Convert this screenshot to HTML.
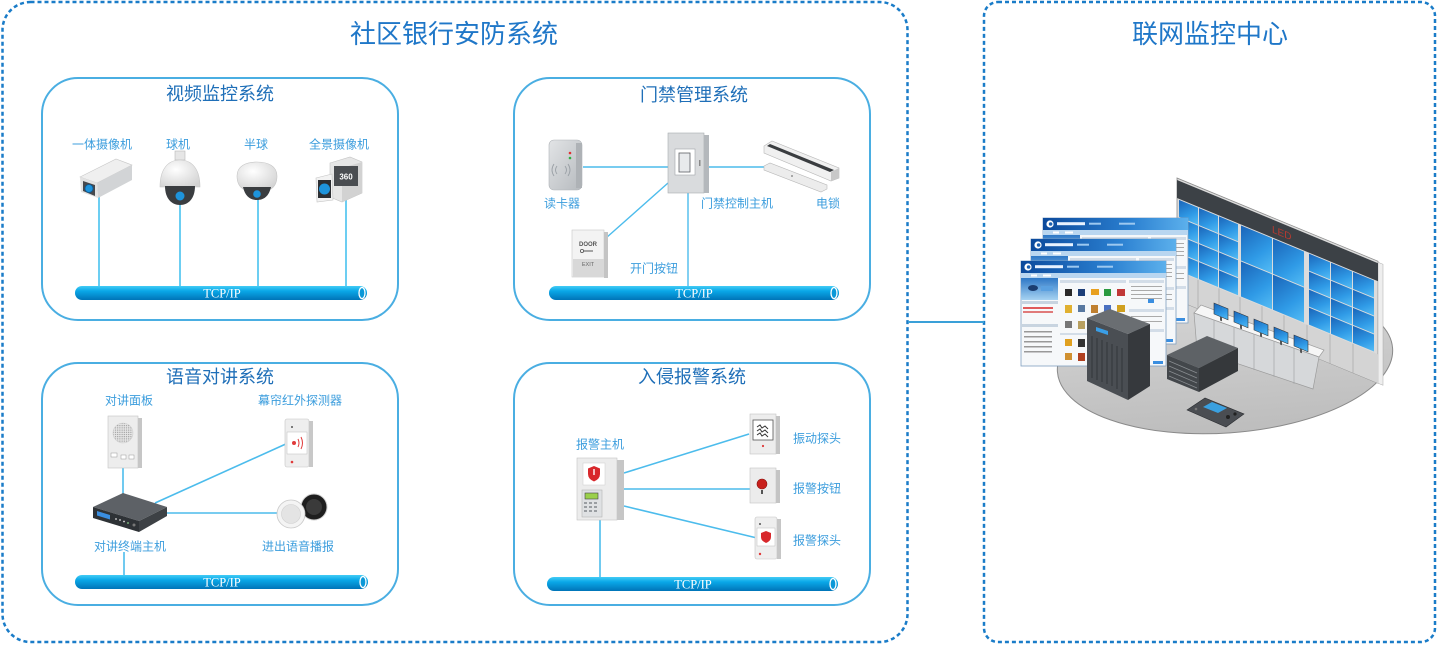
<!DOCTYPE html>
<html><head><meta charset="utf-8">
<style>
html,body{margin:0;padding:0;background:#fff;}
body{width:1438px;height:645px;overflow:hidden;}
svg{display:block;font-family:"Liberation Sans","Noto Sans CJK SC",sans-serif;}
</style></head><body>
<svg width="1438" height="645" viewBox="0 0 1438 645" xmlns="http://www.w3.org/2000/svg">
<defs>
<linearGradient id="pipe" x1="0" y1="0" x2="0" y2="1">
<stop offset="0" stop-color="#43ccf5"/><stop offset="0.35" stop-color="#0aa8e8"/><stop offset="1" stop-color="#0074b8"/>
</linearGradient>
<radialGradient id="wht" cx="0.4" cy="0.35" r="0.75">
<stop offset="0" stop-color="#ffffff"/><stop offset="1" stop-color="#d2d2d2"/>
</radialGradient>
<linearGradient id="gry" x1="0" y1="0" x2="1" y2="1">
<stop offset="0" stop-color="#e2e4e6"/><stop offset="1" stop-color="#b6babe"/>
</linearGradient>
<linearGradient id="scr" x1="0" y1="0" x2="1" y2="1">
<stop offset="0" stop-color="#1a64b8"/><stop offset="0.6" stop-color="#2f9ae6"/><stop offset="1" stop-color="#55bdf5"/>
</linearGradient>
<linearGradient id="tbar" x1="0" y1="0" x2="1" y2="0">
<stop offset="0" stop-color="#0c4a9c"/><stop offset="0.6" stop-color="#2a7fd0"/><stop offset="1" stop-color="#5cb0ec"/>
</linearGradient>
<linearGradient id="side" x1="0" y1="0" x2="0" y2="1">
<stop offset="0" stop-color="#2e78c6"/><stop offset="1" stop-color="#a6d2f2"/>
</linearGradient>
<linearGradient id="plat" x1="0" y1="0" x2="0" y2="1">
<stop offset="0" stop-color="#d6d6d6"/><stop offset="1" stop-color="#bdbdbd"/>
</linearGradient>
<pattern id="dots" width="2.2" height="2.2" patternUnits="userSpaceOnUse">
<rect width="2.2" height="2.2" fill="#e6e6e6"/><circle cx="1.1" cy="1.1" r="0.6" fill="#8c8c8c"/>
</pattern>
<g id="win">
<rect width="145" height="105" fill="#f6f8fa" stroke="#7f9fc0" stroke-width="0.8"/>
<rect width="145" height="12" fill="url(#tbar)"/>
<circle cx="7" cy="6" r="3.6" fill="#fff"/><circle cx="7.6" cy="6" r="1.8" fill="#1a5fb0"/>
<rect x="14" y="4.2" width="28" height="3" fill="#e8f2ff"/>
<rect x="46" y="4.7" width="12" height="2" fill="#9cc8f0"/>
<rect x="76" y="4.7" width="16" height="2" fill="#9cc8f0"/>
<rect y="12" width="145" height="5" fill="#b9d6f0"/>
<rect x="10" y="13.5" width="6" height="2" fill="#fff"/><rect x="22" y="13.5" width="8" height="2" fill="#fff"/>
<rect x="0" y="17" width="37" height="22" fill="url(#side)"/>
<ellipse cx="12" cy="27" rx="5" ry="3" fill="#1b3d70"/><rect x="20" y="25" width="12" height="5" fill="#5aa0e0"/>
<rect x="0" y="40" width="37" height="3" fill="#c8d4e0"/>
<rect x="2" y="46" width="30" height="2" fill="#e05a5a"/><rect x="2" y="50" width="30" height="2" fill="#e07a7a"/>
<rect x="0" y="63" width="37" height="3" fill="#c8d4e0"/>
<rect x="3" y="70" width="28" height="1.5" fill="#999"/><rect x="3" y="75" width="28" height="1.5" fill="#999"/>
<rect x="3" y="80" width="28" height="1.5" fill="#999"/><rect x="3" y="85" width="28" height="1.5" fill="#999"/>
<rect x="3" y="90" width="28" height="1.5" fill="#999"/>
<rect x="39" y="19" width="66" height="3" fill="#d3dde8"/>
<rect x="44" y="28" width="7" height="7" fill="#2a2a2a"/><rect x="57" y="28" width="7" height="7" fill="#1c3e78"/>
<rect x="70" y="28" width="8" height="6" fill="#e8a020"/><rect x="83" y="28" width="7" height="7" fill="#2a9a40"/>
<rect x="96" y="28" width="8" height="7" fill="#c03838"/>
<rect x="44" y="44" width="7" height="8" fill="#e0b030"/><rect x="57" y="44" width="7" height="7" fill="#5878a0"/>
<rect x="70" y="44" width="7" height="8" fill="#c08030"/><rect x="83" y="44" width="7" height="7" fill="#4a70c0"/>
<rect x="96" y="44" width="8" height="7" fill="#d0a020"/>
<rect x="44" y="60" width="7" height="7" fill="#777"/><rect x="57" y="60" width="7" height="8" fill="#b8a060"/>
<rect x="39" y="72" width="66" height="2" fill="#d3dde8"/>
<rect x="44" y="78" width="7" height="7" fill="#e0a020"/><rect x="57" y="78" width="7" height="8" fill="#333"/>
<rect x="44" y="92" width="7" height="7" fill="#d09030"/><rect x="57" y="92" width="7" height="8" fill="#b04020"/>
<rect x="108" y="19" width="35" height="3" fill="#d3dde8"/>
<rect x="110" y="25" width="31" height="1" fill="#aaa"/><rect x="110" y="29" width="31" height="1" fill="#aaa"/>
<rect x="110" y="33" width="31" height="1" fill="#aaa"/><rect x="110" y="37" width="31" height="1" fill="#aaa"/>
<rect x="127" y="38" width="6" height="4" fill="#3a8ee0"/>
<rect x="108" y="48" width="35" height="3" fill="#d3dde8"/>
<rect x="110" y="55" width="31" height="1" fill="#aaa"/><rect x="110" y="60" width="31" height="1" fill="#aaa"/>
<rect x="108" y="68" width="35" height="3" fill="#d3dde8"/>
<rect x="132" y="100" width="10" height="3" fill="#3a8ee0"/>
</g>
</defs>

<!-- outer containers -->
<rect x="2.5" y="2" width="905" height="640" rx="28" fill="none" stroke="#1a7cc8" stroke-width="2.5" stroke-dasharray="4 3"/>
<rect x="984" y="2" width="451" height="640" rx="14" fill="none" stroke="#1a7cc8" stroke-width="2.5" stroke-dasharray="4 3"/>
<line x1="908" y1="322" x2="984" y2="322" stroke="#3aa0d8" stroke-width="2"/>

<text x="454" y="43" font-size="26" fill="#1f77c8" text-anchor="middle">社区银行安防系统</text>
<text x="1210" y="43" font-size="26" fill="#1f77c8" text-anchor="middle">联网监控中心</text>

<!-- inner panels -->
<rect x="42" y="78" width="356" height="242" rx="36" fill="none" stroke="#4aaee2" stroke-width="2"/>
<rect x="514" y="78" width="356" height="242" rx="36" fill="none" stroke="#4aaee2" stroke-width="2"/>
<rect x="42" y="363" width="356" height="242" rx="36" fill="none" stroke="#4aaee2" stroke-width="2"/>
<rect x="514" y="363" width="356" height="242" rx="36" fill="none" stroke="#4aaee2" stroke-width="2"/>

<g font-size="18" fill="#1f6fb8" text-anchor="middle">
<text x="220" y="100">视频监控系统</text>
<text x="694" y="101">门禁管理系统</text>
<text x="220" y="383">语音对讲系统</text>
<text x="692" y="383">入侵报警系统</text>
</g>

<!-- ===== Video panel ===== -->
<g stroke="#5cc8f0" stroke-width="1.8">
<line x1="99" y1="196" x2="99" y2="287"/>
<line x1="180" y1="204" x2="180" y2="287"/>
<line x1="258" y1="199" x2="258" y2="287"/>
<line x1="346" y1="200" x2="346" y2="287"/>
</g>
<g font-size="12" fill="#3b9ddd" text-anchor="middle">
<text x="102" y="148.5">一体摄像机</text>
<text x="178" y="148.5">球机</text>
<text x="256" y="148.5">半球</text>
<text x="339" y="148.5">全景摄像机</text>
</g>
<!-- bullet cam -->
<polygon points="80,177 116,159 132,165 97,183" fill="#efefef" stroke="#c8c8c8" stroke-width="0.6"/>
<polygon points="97,183 132,165 132,180 98,198" fill="#d2d4d6"/>
<polygon points="80,177 97,183 98,198 81,192" fill="#e2e2e2"/>
<polygon points="83,181 95,185 95,196 83,191" fill="#46494d"/>
<circle cx="89" cy="188.5" r="4" fill="#1e94dc" stroke="#0c5a96" stroke-width="0.8"/>
<!-- PTZ -->
<rect x="175" y="151" width="10" height="9" fill="#e6e6e6" stroke="#b8b8b8" stroke-width="0.6"/>
<path d="M160 187 C160 169 168 160 180 160 C192 160 200 169 200 187 Z" fill="url(#wht)" stroke="#c6c6c6" stroke-width="0.6"/>
<path d="M165 186 C165 199 172 205 180 205 C188 205 195 199 195 186 Z" fill="#3a3d40"/>
<circle cx="180" cy="196" r="4.5" fill="#1e94dc"/>
<!-- half dome -->
<path d="M237 176 C237 166 246 162 257 162 C268 162 277 166 277 176 C277 183 274 187 271 189 L243 189 C240 187 237 183 237 176 Z" fill="url(#wht)" stroke="#c6c6c6" stroke-width="0.6"/>
<path d="M243 187 C245 196 250 200 257 200 C264 200 269 196 271 187 Z" fill="#3a3d40"/>
<circle cx="257" cy="194" r="3.8" fill="#1e94dc"/>
<!-- panorama -->
<polygon points="330,163 350,157 362,162 362,193 342,202 330,197" fill="#e6e6e6" stroke="#c4c4c4" stroke-width="0.6"/>
<polygon points="342,168 362,162 362,193 342,202" fill="#d2d2d2"/>
<rect x="334" y="166" width="24" height="20" fill="#4a4d51"/>
<text x="346" y="179.5" font-size="8" font-weight="bold" fill="#fff" text-anchor="middle">360</text>
<polygon points="316,178 332,174 333,200 317,202" fill="#f2f2f2" stroke="#c4c4c4" stroke-width="0.6"/>
<rect x="318" y="180" width="13" height="18" fill="#2c2f33"/>
<circle cx="324.5" cy="189" r="5.5" fill="#1e94dc"/>
<!-- pipe -->
<rect x="75" y="286" width="292" height="14" rx="7" fill="url(#pipe)"/>
<ellipse cx="362" cy="293" rx="3" ry="5.5" fill="#0a98d8" stroke="#fff" stroke-width="1.3"/>
<text x="222" y="297.5" font-size="12.5" fill="#fff" text-anchor="middle" font-family="Liberation Serif, serif">TCP/IP</text>

<!-- ===== Door panel ===== -->
<g stroke="#4cbcec" stroke-width="1.4">
<line x1="583" y1="167" x2="668" y2="167"/>
<line x1="708" y1="167" x2="765" y2="167"/>
<line x1="668" y1="183" x2="606" y2="238"/>
<line x1="688" y1="192" x2="688" y2="287"/>
</g>
<g font-size="12" fill="#3b9ddd" text-anchor="middle">
<text x="562" y="207.5">读卡器</text>
<text x="737" y="207.5">门禁控制主机</text>
<text x="828" y="207.5">电锁</text>
<text x="654" y="272.5">开门按钮</text>
</g>
<!-- reader -->
<rect x="549" y="140" width="33" height="50" rx="5" fill="url(#gry)" stroke="#b0b4b8" stroke-width="0.6"/>
<rect x="576" y="143" width="6" height="45" fill="#aeb2b6"/>
<circle cx="570" cy="153" r="1.3" fill="#e03030"/><circle cx="570" cy="158" r="1.3" fill="#30b040"/>
<path d="M557 166 Q554 170 557 174 M554 164 Q550 170 554 176 M565 166 Q568 170 565 174 M568 164 Q572 170 568 176" fill="none" stroke="#9aa0a6" stroke-width="0.9"/>
<!-- controller -->
<rect x="668" y="133" width="36" height="60" fill="#d9dbdd" stroke="#a8acb0" stroke-width="0.6"/>
<rect x="704" y="135" width="5" height="58" fill="#b4b8bc"/>
<rect x="675" y="149" width="20" height="26" fill="#fff" stroke="#a0a4a8" stroke-width="0.6"/>
<rect x="679" y="153" width="11" height="19" fill="#e8eaec" stroke="#5c6064" stroke-width="0.8"/>
<rect x="699" y="160" width="1.5" height="6" fill="#888"/>
<!-- lock -->
<polygon points="764,146 772,141 839,168 839,178 831,181 764,153" fill="#f0f0f0" stroke="#b8b8b8" stroke-width="0.6"/>
<polygon points="770,144 834,170 830,172 767,146" fill="#3a3d40"/>
<polygon points="831,172 839,168 839,178 831,181" fill="#c8c8c8"/>
<polygon points="764,166 770,163 827,185 827,189 821,192 764,170" fill="#ececec" stroke="#b8b8b8" stroke-width="0.6"/>
<circle cx="792" cy="176" r="0.9" fill="#777"/>
<!-- exit button -->
<rect x="572" y="230" width="32" height="47" fill="#f3f3f3" stroke="#c8c8c8" stroke-width="0.6"/>
<rect x="604" y="232" width="4" height="46" fill="#c4c4c4"/>
<rect x="573" y="259" width="31" height="18" fill="#d8d8d8"/>
<text x="588" y="246" font-size="6" font-weight="bold" fill="#555" text-anchor="middle">DOOR</text>
<circle cx="582" cy="251" r="1.6" fill="none" stroke="#555" stroke-width="0.8"/>
<line x1="583.6" y1="251" x2="593" y2="251" stroke="#555" stroke-width="1"/>
<text x="588" y="266" font-size="5.5" fill="#666" text-anchor="middle">EXIT</text>
<!-- pipe -->
<rect x="549" y="286" width="290" height="14" rx="7" fill="url(#pipe)"/>
<ellipse cx="834" cy="293" rx="3" ry="5.5" fill="#0a98d8" stroke="#fff" stroke-width="1.3"/>
<text x="694" y="297.5" font-size="12.5" fill="#fff" text-anchor="middle" font-family="Liberation Serif, serif">TCP/IP</text>

<!-- ===== Voice panel ===== -->
<g stroke="#4cbcec" stroke-width="1.6">
<line x1="123" y1="467" x2="123" y2="496"/>
<line x1="155" y1="503" x2="288" y2="443"/>
<line x1="163" y1="513" x2="278" y2="513"/>
<line x1="124" y1="552" x2="124" y2="576"/>
</g>
<g font-size="12" fill="#3b9ddd" text-anchor="middle">
<text x="129" y="404.5">对讲面板</text>
<text x="300" y="404.5">幕帘红外探测器</text>
<text x="130" y="550.5">对讲终端主机</text>
<text x="298" y="550.5">进出语音播报</text>
</g>
<!-- intercom panel -->
<rect x="108" y="416" width="30" height="52" fill="#ededed" stroke="#c4c4c4" stroke-width="0.6"/>
<rect x="138" y="418" width="4" height="50" fill="#c6c6c6"/>
<circle cx="123" cy="433" r="10" fill="url(#dots)" stroke="#cfcfcf" stroke-width="0.6"/>
<rect x="111" y="453" width="6" height="4" fill="#fff" stroke="#999" stroke-width="0.5"/>
<rect x="121" y="455" width="5" height="4" fill="#fff" stroke="#999" stroke-width="0.5"/>
<rect x="129" y="455" width="5" height="4" fill="#fff" stroke="#999" stroke-width="0.5"/>
<!-- detector -->
<rect x="285" y="419" width="24" height="48" rx="2" fill="#eeeeee" stroke="#c4c4c4" stroke-width="0.6"/>
<rect x="309" y="421" width="4" height="46" fill="#c8c8c8"/>
<rect x="287" y="432" width="20" height="22" fill="#fff" stroke="#bbb" stroke-width="0.5"/>
<circle cx="294" cy="443" r="2" fill="#e03a3a"/>
<path d="M298 439 Q300 443 298 447 M301 437 Q304 443 301 449" fill="none" stroke="#e03a3a" stroke-width="1"/>
<circle cx="292" cy="462" r="1.3" fill="#e03a3a"/>
<circle cx="292" cy="427" r="1" fill="#555"/>
<!-- host -->
<polygon points="93,507 123,493 167,507 139,521" fill="#5d6166"/>
<polygon points="93,507 139,521 139,532 93,518" fill="#2e3236"/>
<polygon points="139,521 167,507 167,516 139,532" fill="#3d4145"/>
<polygon points="97,511 110,515 110,519.5 97,515.5" fill="#3a8ee0"/>
<circle cx="116" cy="519" r="0.9" fill="#ddd"/><circle cx="120" cy="520" r="0.9" fill="#ddd"/>
<circle cx="124" cy="521.5" r="0.9" fill="#ddd"/><circle cx="128" cy="523" r="0.9" fill="#8c8"/>
<circle cx="134" cy="525" r="1.5" fill="#777"/>
<!-- speakers -->
<circle cx="314" cy="507" r="13" fill="#1e1e1e" stroke="#cfcfcf" stroke-width="1"/>
<circle cx="314" cy="507" r="8" fill="#3a3a3a"/>
<circle cx="291" cy="514" r="14" fill="#f4f4f4" stroke="#c8c8c8" stroke-width="0.8"/>
<circle cx="291" cy="514" r="9.5" fill="#e4e4e4" stroke="#d0d0d0" stroke-width="0.6"/>
<!-- pipe -->
<rect x="75" y="575" width="293" height="14" rx="7" fill="url(#pipe)"/>
<ellipse cx="363" cy="582" rx="3" ry="5.5" fill="#0a98d8" stroke="#fff" stroke-width="1.3"/>
<text x="222" y="586.5" font-size="12.5" fill="#fff" text-anchor="middle" font-family="Liberation Serif, serif">TCP/IP</text>

<!-- ===== Intrusion panel ===== -->
<g stroke="#4cbcec" stroke-width="1.6">
<line x1="624" y1="473" x2="749" y2="434"/>
<line x1="624" y1="489" x2="751" y2="489"/>
<line x1="624" y1="506" x2="757" y2="538"/>
<line x1="600" y1="519" x2="600" y2="578"/>
</g>
<g font-size="12" fill="#3b9ddd" text-anchor="middle">
<text x="600" y="448.5">报警主机</text>
<text x="817" y="442.5">振动探头</text>
<text x="817" y="492.5">报警按钮</text>
<text x="817" y="544.5">报警探头</text>
</g>
<!-- alarm host -->
<rect x="577" y="458" width="40" height="62" fill="#ececec" stroke="#c4c4c4" stroke-width="0.6"/>
<rect x="617" y="460" width="7" height="60" fill="#c6c6c6"/>
<rect x="583" y="463" width="22" height="22" fill="#fff" stroke="#ccc" stroke-width="0.5"/>
<path d="M594 466 L600 468.5 L600 474 Q600 479 594 481.5 Q588 479 588 474 L588 468.5 Z" fill="#d8282c"/>
<rect x="593.3" y="469" width="1.4" height="6" fill="#fff"/>
<rect x="582" y="490" width="20" height="27" fill="#dfe1e3" stroke="#b4b4b4" stroke-width="0.6"/>
<rect x="585" y="493" width="13" height="6" fill="#9ad04a" stroke="#444" stroke-width="0.6"/>
<g fill="#9a9ea2">
<rect x="584" y="502" width="3" height="2"/><rect x="589" y="502" width="3" height="2"/><rect x="594" y="502" width="3" height="2"/>
<rect x="584" y="506" width="3" height="2"/><rect x="589" y="506" width="3" height="2"/><rect x="594" y="506" width="3" height="2"/>
<rect x="584" y="510" width="3" height="2"/><rect x="589" y="510" width="3" height="2"/><rect x="594" y="510" width="3" height="2"/>
</g>
<!-- vibration -->
<rect x="750" y="414" width="26" height="40" fill="#ededed" stroke="#c4c4c4" stroke-width="0.6"/>
<rect x="776" y="416" width="4" height="38" fill="#c4c4c4"/>
<rect x="753" y="420" width="20" height="20" fill="#fff" stroke="#555" stroke-width="0.8"/>
<path d="M757 427 L760 425 L762 428 L765 426 L768 429 M757 431 L760 429 L762 432 L765 430 L768 433 M757 435 L760 433 L762 436 L765 434 L768 437" fill="none" stroke="#333" stroke-width="1"/>
<circle cx="763" cy="446" r="1.1" fill="#e03a3a"/>
<!-- alarm button -->
<rect x="750" y="468" width="26" height="35" fill="#ececec" stroke="#c4c4c4" stroke-width="0.6"/>
<rect x="776" y="470" width="4" height="33" fill="#c4c4c4"/>
<circle cx="762" cy="484" r="5" fill="#c8201c" stroke="#8a1410" stroke-width="0.6"/>
<rect x="761" y="490" width="2" height="4" fill="#555"/>
<!-- probe -->
<rect x="755" y="517" width="22" height="42" rx="2" fill="#eeeeee" stroke="#c4c4c4" stroke-width="0.6"/>
<rect x="777" y="519" width="4" height="40" fill="#c6c6c6"/>
<rect x="757" y="528" width="18" height="18" fill="#fff" stroke="#bbb" stroke-width="0.5"/>
<path d="M766 531 L771 533 L771 537 Q771 541 766 543 Q761 541 761 537 L761 533 Z" fill="#d8282c"/>
<circle cx="760" cy="524" r="1" fill="#555"/>
<circle cx="760" cy="554" r="1.2" fill="#e03a3a"/>
<!-- pipe -->
<rect x="547" y="577" width="291" height="14" rx="7" fill="url(#pipe)"/>
<ellipse cx="833" cy="584" rx="3" ry="5.5" fill="#0a98d8" stroke="#fff" stroke-width="1.3"/>
<text x="693" y="588.5" font-size="12.5" fill="#fff" text-anchor="middle" font-family="Liberation Serif, serif">TCP/IP</text>

<!-- ===== Monitoring center ===== -->
<ellipse cx="1225" cy="360" rx="168" ry="73" transform="rotate(-4 1225 360)" fill="url(#plat)" stroke="#8a8a8a" stroke-width="1"/>
<!-- video wall -->
<g transform="matrix(1,0.414,0,1,1177,178)">
<rect x="0" y="0" width="201" height="122" fill="#dcdcdc" stroke="#8c8c8c" stroke-width="0.8"/>
<rect x="201" y="1" width="5" height="121" fill="#eeeeee" stroke="#aaa" stroke-width="0.5"/>
<rect x="0" y="2" width="201" height="18" fill="#3c4146"/>
<text x="95" y="15" font-size="10" fill="#b83a30">LED</text>
<g fill="url(#scr)">
<rect x="2" y="21" width="19" height="17"/><rect x="22" y="21" width="19" height="17"/><rect x="42" y="21" width="19" height="17"/>
<rect x="2" y="39" width="19" height="17"/><rect x="22" y="39" width="19" height="17"/><rect x="42" y="39" width="19" height="17"/>
<rect x="2" y="57" width="19" height="17"/><rect x="22" y="57" width="19" height="17"/><rect x="42" y="57" width="19" height="17"/>
<rect x="2" y="75" width="19" height="17"/><rect x="22" y="75" width="19" height="17"/><rect x="42" y="75" width="19" height="17"/>
<rect x="64" y="21" width="31" height="35"/><rect x="96" y="21" width="31" height="35"/>
<rect x="64" y="57" width="31" height="35"/><rect x="96" y="57" width="31" height="35"/>
<rect x="132" y="21" width="21" height="17"/><rect x="154" y="21" width="21" height="17"/><rect x="176" y="21" width="21" height="17"/>
<rect x="132" y="39" width="21" height="17"/><rect x="154" y="39" width="21" height="17"/><rect x="176" y="39" width="21" height="17"/>
<rect x="132" y="57" width="21" height="17"/><rect x="154" y="57" width="21" height="17"/><rect x="176" y="57" width="21" height="17"/>
<rect x="132" y="75" width="21" height="17"/><rect x="154" y="75" width="21" height="17"/><rect x="176" y="75" width="21" height="17"/>
</g>
<rect x="0" y="93" width="201" height="29" fill="#d4d4d4"/>
<g stroke="#a8a8a8" stroke-width="0.7">
<line x1="21" y1="93" x2="21" y2="122"/><line x1="42" y1="93" x2="42" y2="122"/><line x1="63" y1="93" x2="63" y2="122"/>
<line x1="85" y1="93" x2="85" y2="122"/><line x1="107" y1="93" x2="107" y2="122"/><line x1="130" y1="93" x2="130" y2="122"/>
<line x1="153" y1="93" x2="153" y2="122"/><line x1="176" y1="93" x2="176" y2="122"/>
</g>
</g>
<!-- software windows -->
<use href="#win" x="1043" y="218"/>
<use href="#win" x="1031" y="239"/>
<use href="#win" x="1021" y="261"/>
<!-- desk -->
<polygon points="1194,313 1201,305 1324,350 1319,357" fill="#f6f6f6" stroke="#9c9c9c" stroke-width="0.7"/>
<polygon points="1194,313 1319,357 1313,389 1197,350" fill="#d6d8da" stroke="#9c9c9c" stroke-width="0.7"/>
<g stroke="#a4a6a8" stroke-width="0.7">
<line x1="1214" y1="320" x2="1214" y2="356"/><line x1="1234" y1="327" x2="1234" y2="363"/>
<line x1="1254" y1="334" x2="1254" y2="370"/><line x1="1274" y1="341" x2="1274" y2="377"/>
<line x1="1294" y1="348" x2="1294" y2="384"/>
</g>
<!-- monitors -->
<g>
<g transform="matrix(1,0.414,0,1,1214,303)"><rect x="0" y="0" width="14" height="11" fill="url(#scr)" stroke="#333" stroke-width="0.6"/><rect x="6" y="11" width="2" height="4" fill="#555"/></g>
<g transform="matrix(1,0.414,0,1,1234,311)"><rect x="0" y="0" width="14" height="11" fill="url(#scr)" stroke="#333" stroke-width="0.6"/><rect x="6" y="11" width="2" height="4" fill="#555"/></g>
<g transform="matrix(1,0.414,0,1,1254,319)"><rect x="0" y="0" width="14" height="11" fill="url(#scr)" stroke="#333" stroke-width="0.6"/><rect x="6" y="11" width="2" height="4" fill="#555"/></g>
<g transform="matrix(1,0.414,0,1,1274,327)"><rect x="0" y="0" width="14" height="11" fill="url(#scr)" stroke="#333" stroke-width="0.6"/><rect x="6" y="11" width="2" height="4" fill="#555"/></g>
<g transform="matrix(1,0.414,0,1,1294,335)"><rect x="0" y="0" width="14" height="11" fill="url(#scr)" stroke="#333" stroke-width="0.6"/><rect x="6" y="11" width="2" height="4" fill="#555"/></g>
</g>
<!-- server rack -->
<polygon points="1087,318 1110,309 1150,324 1128,334" fill="#6a6e72"/>
<polygon points="1087,318 1128,334 1128,400 1087,381" fill="#4a4e53"/>
<polygon points="1128,334 1150,324 1150,386 1128,400" fill="#36393d"/>
<polygon points="1096,327 1108,331 1108,335 1096,331" fill="#3a9ee6"/>
<g stroke="#2e3135" stroke-width="0.8">
<line x1="1092" y1="336" x2="1092" y2="378"/><line x1="1097" y1="338" x2="1097" y2="380"/>
<line x1="1102" y1="340" x2="1102" y2="382"/><line x1="1107" y1="342" x2="1107" y2="384"/>
<line x1="1112" y1="344" x2="1112" y2="386"/><line x1="1117" y1="346" x2="1117" y2="389"/>
<line x1="1122" y1="348" x2="1122" y2="392"/>
</g>
<!-- DVR box -->
<polygon points="1167,355 1207,336 1238,348 1199,368" fill="#5e6266"/>
<polygon points="1167,355 1199,368 1199,392 1167,379" fill="#43474b"/>
<polygon points="1199,368 1238,348 1238,371 1199,392" fill="#35383b"/>
<g stroke="#8a8e92" stroke-width="0.7">
<line x1="1169" y1="361" x2="1197" y2="373"/><line x1="1169" y1="366" x2="1197" y2="378"/>
<line x1="1169" y1="371" x2="1197" y2="383"/><line x1="1169" y1="376" x2="1197" y2="388"/>
</g>
<!-- keyboard -->
<polygon points="1187,410 1205,398 1244,414 1226,427" fill="#4a4d52" stroke="#2a2c30" stroke-width="0.6"/>
<polygon points="1203,407 1212,402 1227,408 1218,413" fill="#3aa0e0"/>
<circle cx="1228" cy="417" r="2" fill="#222"/><circle cx="1235" cy="414" r="1.6" fill="#222"/>
<circle cx="1196" cy="409" r="1.3" fill="#777"/>
</svg>
</body></html>
